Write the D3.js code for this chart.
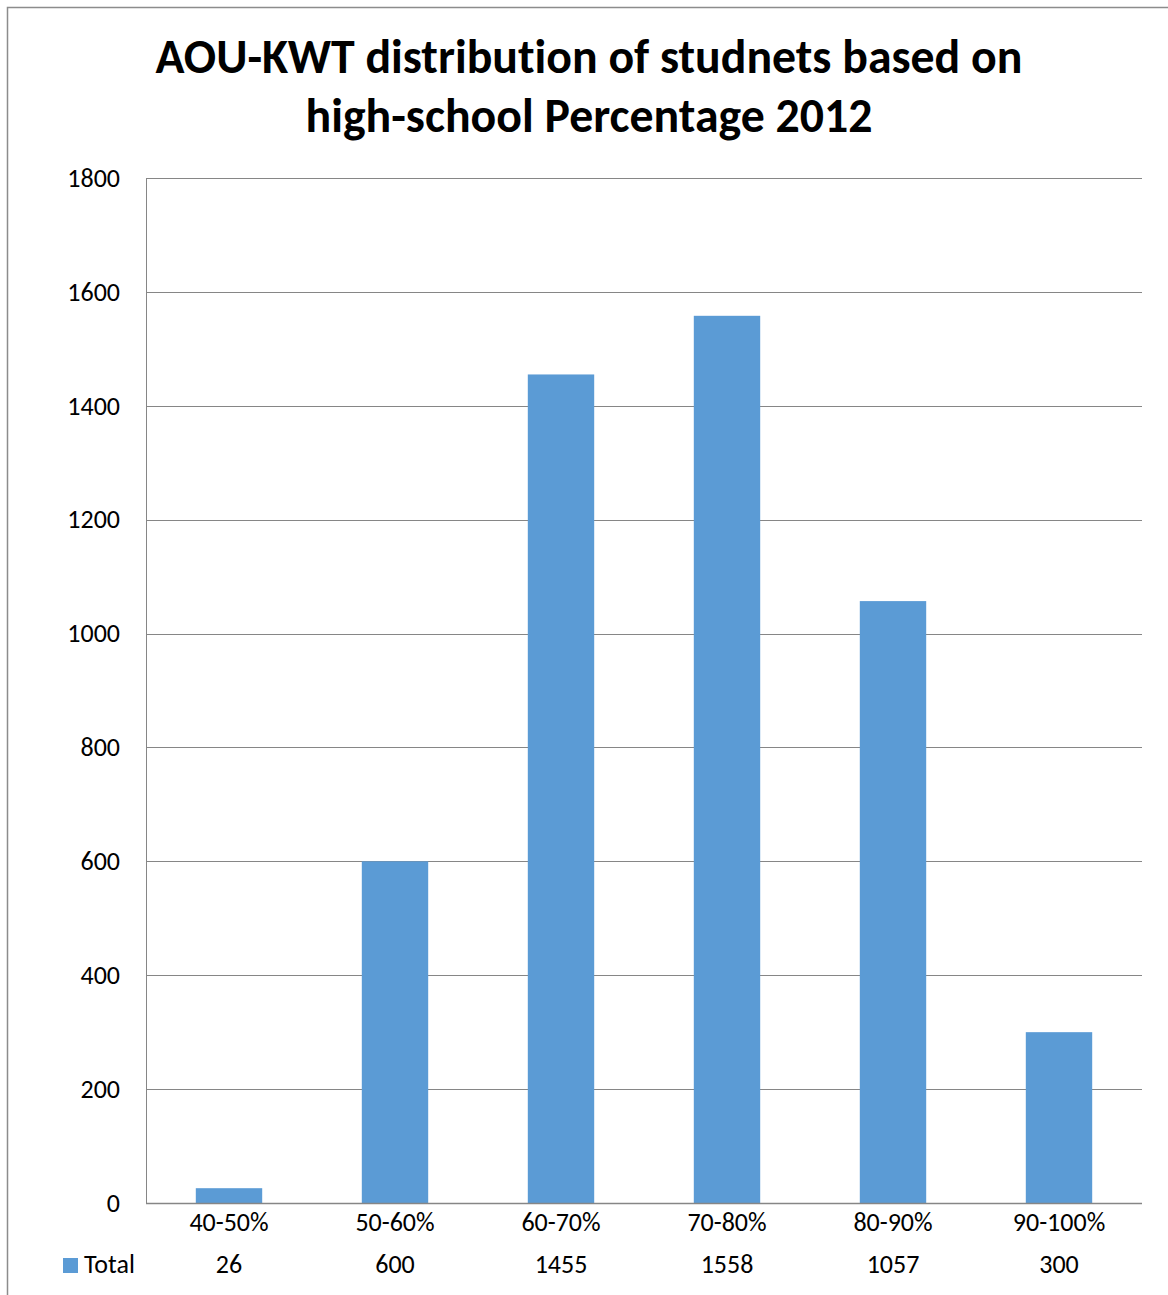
<!DOCTYPE html>
<html>
<head>
<meta charset="utf-8">
<script src="https://cdn.jsdelivr.net/npm/d3@7"></script>
<style>
  body { margin: 0; background: #fff; }
  svg text { font-family: Carlito, Calibri, Lato, "Open Sans", sans-serif; fill: #000; font-variant-ligatures: none; }
</style>
</head>
<body>
<svg id="chart" width="1168" height="1295"></svg>
<script>
// data
const categories = ["40-50%", "50-60%", "60-70%", "70-80%", "80-90%", "90-100%"];
const totals = [26, 600, 1455, 1558, 1057, 300];
const yTicks = [0, 200, 400, 600, 800, 1000, 1200, 1400, 1600, 1800];
const seriesName = "Total";
const titleLines = ["AOU-KWT distribution of studnets based on", "high-school Percentage 2012"];

let margin = {top: 178, right: 26, bottom: 92, left: 146},
    width = 1168 - margin.left - margin.right,
    height = 1295 - margin.top - margin.bottom;

let svg = d3.select("#chart");

// outer chart border (right/bottom run off the picture)
svg.append("rect")
    .attr("x", 7.5).attr("y", 7.5)
    .attr("width", 1200).attr("height", 1400)
    .style("fill", "none")
    .style("stroke", "#8c8c8c")
    .style("stroke-width", 1.5);

let xScale = d3.scaleBand()
    .domain(categories)
    .range([0, width])
    .paddingInner(0.6)
    .paddingOuter(0.3);

let yScale = d3.scaleLinear()
    .domain([0, 1800])
    .range([height, 0]);

let g = svg.append("g")
    .attr("transform", "translate(" + margin.left + "," + margin.top + ")");

// gridlines
g.append("g")
    .selectAll("line")
    .data(yTicks)
    .enter().append("line")
    .attr("x1", 0)
    .attr("x2", width)
    .attr("y1", d => Math.round(yScale(d)) + 0.5)
    .attr("y2", d => Math.round(yScale(d)) + 0.5)
    .style("stroke", "#868686")
    .style("stroke-width", 1);

// y axis
let yAxis = g.append("g")
    .call(d3.axisLeft(yScale).tickValues(yTicks).tickFormat(d3.format("d")).tickSize(0).tickPadding(26));
yAxis.select(".domain").remove();
yAxis.selectAll("text")
    .style("font-size", "26px")
    .attr("dy", "0.32em");

// left axis line
g.append("line")
    .attr("x1", 0.5).attr("x2", 0.5)
    .attr("y1", 0).attr("y2", height)
    .style("stroke", "#868686");

// bars
g.selectAll(".bar")
    .data(totals)
    .enter().append("rect")
    .attr("class", "bar")
    .attr("x", (d, i) => xScale(categories[i]))
    .attr("width", xScale.bandwidth())
    .attr("y", d => yScale(d))
    .attr("height", d => height - yScale(d))
    .style("fill", "#5b9bd5");

// bottom axis line
g.append("line")
    .attr("x1", 0).attr("x2", width)
    .attr("y1", height + 0.5).attr("y2", height + 0.5)
    .style("stroke", "#868686")
    .style("stroke-width", 1.5);

// category labels
let xAxis = g.append("g")
    .attr("transform", "translate(0," + height + ")")
    .call(d3.axisBottom(xScale).tickSize(0));
xAxis.select(".domain").remove();
xAxis.selectAll("text")
    .style("font-size", "26px")
    .attr("y", 28)
    .attr("dy", 0);

// data table row
g.append("g")
    .selectAll("text")
    .data(totals)
    .enter().append("text")
    .attr("x", (d, i) => xScale(categories[i]) + xScale.bandwidth() / 2)
    .attr("y", height + 70)
    .attr("text-anchor", "middle")
    .style("font-size", "26px")
    .text(d => d);

svg.append("rect")
    .attr("x", 63).attr("y", 1258)
    .attr("width", 15).attr("height", 15)
    .style("fill", "#5b9bd5");

svg.append("text")
    .attr("x", 84).attr("y", 1273)
    .style("font-size", "26px")
    .text(seriesName);

// title, sized so the first line spans the same width as the original
let lines = svg.append("g").selectAll("text")
    .data(titleLines)
    .enter().append("text")
    .attr("x", 589)
    .attr("y", (d, i) => 73 + i * 59)
    .attr("text-anchor", "middle")
    .style("font-weight", "bold")
    .style("font-size", "40px")
    .text(d => d);

let w = lines.nodes()[0].getComputedTextLength();
lines.style("font-size", (40 * 867 / w) + "px");
</script>
</body>
</html>
